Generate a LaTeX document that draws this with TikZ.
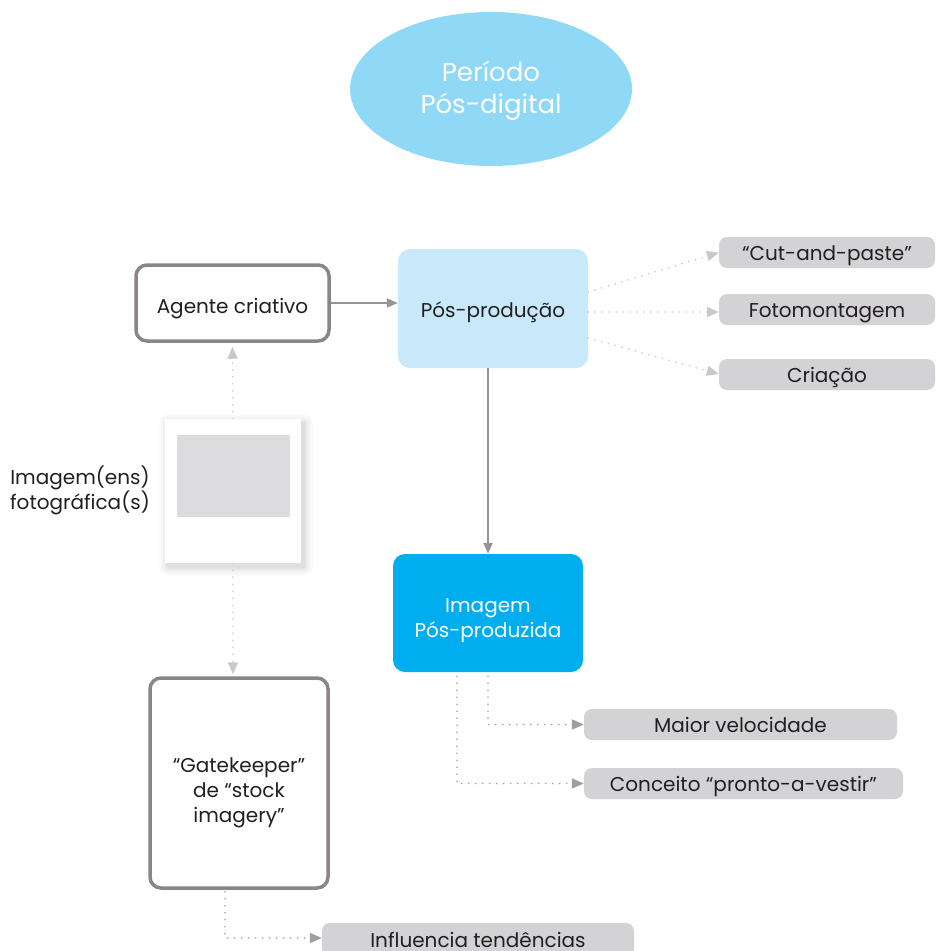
\documentclass[tikz,border=0pt]{standalone}
\usepackage{fontspec}
\setmainfont{Poppins}
\usetikzlibrary{arrows.meta,shapes.geometric}
\definecolor{ellfill}{HTML}{8FD8F6}
\definecolor{posfill}{HTML}{C7E9F9}
\definecolor{imgfill}{HTML}{00AEEF}
\definecolor{tagfill}{HTML}{D3D3D5}
\definecolor{bordergray}{HTML}{8C8585}
\definecolor{arrgray}{HTML}{939598}
\definecolor{lightdot}{HTML}{C8C9CB}
\definecolor{darkdot}{HTML}{9D9FA2}
\definecolor{txt}{HTML}{231F20}
\definecolor{photogray}{HTML}{DCDCDE}
\tikzset{
  txtfont/.style={font=\fontsize{20}{25}\selectfont, text=txt, align=center},
  outlinebox/.style={txtfont, draw=bordergray, line width=3.5pt, rounded corners=11pt, fill=white, inner sep=0pt},
  tagbox/.style={txtfont, fill=tagfill, rounded corners=8pt, inner sep=0pt, minimum height=31pt, text height=16pt, text depth=0pt},
  solidarr/.style={draw=arrgray, line width=2pt, -{Triangle[length=11pt,width=9pt]}},
  lightdotarr/.style={draw=lightdot, line width=1.8pt, line cap=round, dash pattern=on 0pt off 7pt, -{Triangle[length=12pt,width=10pt,fill=lightdot]}},
  darkdotarr/.style={draw=darkdot, line width=1.8pt, line cap=round, dash pattern=on 0pt off 7pt, -{Triangle[length=12pt,width=10pt,fill=darkdot]}},
}
\begin{document}
\begin{tikzpicture}[x=1pt,y=-1pt]
\useasboundingbox (0,0) rectangle (935,951);
\clip (0,0) rectangle (935,951);
% ellipse
\node (ell) [ellipse, fill=ellfill, minimum width=282pt, minimum height=154pt, inner sep=0pt] at (491,89) {};
\node (elltext) [text=white, align=center, font=\fontsize{26}{32}\selectfont, inner sep=0pt] at (491,91) {Período\\Pós-digital};
% main boxes
\node (agente) [outlinebox, minimum width=193pt, minimum height=76pt, text height=20pt, text depth=0pt] at (232.5,303) {Agente criativo};
\node (pos) [txtfont, fill=posfill, rounded corners=12pt, minimum width=190pt, minimum height=119pt, inner sep=0pt, text height=17pt, text depth=0pt] at (493,308.5) {Pós-produção};
\node (img) [fill=imgfill, rounded corners=12pt, minimum width=190pt, minimum height=118pt, inner sep=0pt] at (488,613) {};
\node (imgtext) [txtfont, text=white, inner sep=0pt] at (488,620.5) {Imagem\\Pós-produzida};
\node (gate) [outlinebox, minimum width=178pt, minimum height=210pt] at (239,783) {};
\node (gatetext) [txtfont, inner sep=0pt] at (239,793) {“Gatekeeper”\\de “stock\\imagery”};
% photo with soft shadow
\foreach \s/\o in {9/0.015,7/0.02,5/0.025,3/0.03,1.5/0.035}{
  \fill[black, opacity=\o, rounded corners=\s pt] (165+3-\s, 419+4-\s) rectangle (301+3+\s, 563+4+\s);
}
\node (photo) [fill=white, minimum width=136pt, minimum height=144pt, inner sep=0pt] at (233,491) {};
\node (photoimg) [fill=photogray, minimum width=113pt, minimum height=82pt, inner sep=0pt] at (233.5,476) {};
\node (photolbl) [txtfont, inner sep=0pt] at (80,490) {Imagem(ens)\\fotográfica(s)};
% tags
\node (cut) [tagbox, minimum width=216pt] at (827,252.5) {“Cut-and-paste”};
\node (foto) [tagbox, minimum width=216pt] at (827,309.5) {Fotomontagem};
\node (cria) [tagbox, minimum width=216pt] at (827,374.5) {Criação};
\node (maior) [tagbox, minimum width=313pt] at (740.5,724.5) {Maior velocidade};
\node (conc) [tagbox, minimum width=319pt] at (743.5,783.5) {Conceito “pronto-a-vestir”};
\node (infl) [tagbox, minimum width=312pt, minimum height=34pt, text height=15pt] at (478,940) {Influencia tendências};
% connectors
\draw[solidarr] (agente.east) -- (pos.west |- agente.east);
\draw[solidarr] ([xshift=-5pt]pos.south) -- ([xshift=0pt]img.north);
\draw[lightdotarr] ([yshift=16.5pt]pos.east) -- (cut.west);
\draw[lightdotarr] ([yshift=-3.5pt]pos.east) -- ([yshift=-2.5pt]foto.west);
\draw[lightdotarr] ([yshift=-29.5pt]pos.east) -- ([yshift=0.5pt]cria.west);
\draw[lightdotarr] (photo.north) -- ([yshift=-4pt]agente.south);
\draw[lightdotarr] (photo.south) -- ([yshift=2pt]gate.north -| photo.south);
\draw[darkdotarr] ([yshift=-4pt]img.south) |- (maior.west);
\draw[darkdotarr] ([xshift=-31pt,yshift=-4pt]img.south) |- (conc.west);
\draw[darkdotarr] ([xshift=-14pt,yshift=-2pt]gate.south) |- ([yshift=2pt]infl.west);
\end{tikzpicture}
\end{document}
